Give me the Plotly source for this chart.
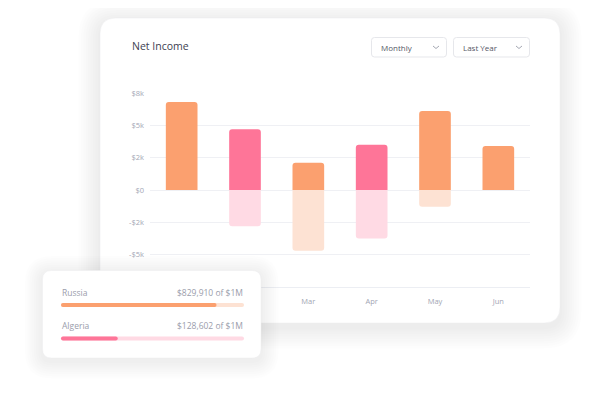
import plotly.graph_objects as go

# ---------------- data ----------------
months = ["Jan", "Feb", "Mar", "Apr", "May", "Jun"]
income = [6800, 4700, 2100, 3500, 6100, 3400]
expense = [0, -2800, -4700, -3750, -1300, 0]
bar_kind = ["o", "p", "o", "p", "o", "o"]
y_tickvals = [-7500, -5000, -2500, 0, 2500, 5000, 7500]
y_ticktext = ["-$8k", "-$5k", "-$2k", "$0", "$2k", "$5k", "$8k"]

countries = ["Russia", "Algeria"]
country_values = ["$829,910 of $1M", "$128,602 of $1M"]
country_progress = [0.85, 0.31]
country_kind = ["o", "p"]

# ---------------- styles ----------------
W, H = 603, 396
OFF = 8  # page body margin
L, R, T, B = 150, 530, 93, 287  # plot area in screen pixels
ORANGE, PINK = "#fba06f", "#fe7598"
LORANGE, LPINK = "#fde2d3", "#ffdae4"
strong = {"o": ORANGE, "p": PINK}
light = {"o": LORANGE, "p": LPINK}
FONT = "Open Sans"


def px(x):
    return (x - L) / (R - L)


def py(y):
    return (B - y) / (B - T)


def rrect(x0, y0, x1, y1, r):
    P = lambda x, y: f"{px(x):.5f},{py(y):.5f}"
    return (f"M{P(x0 + r, y0)} L{P(x1 - r, y0)} Q{P(x1, y0)} {P(x1, y0 + r)} "
            f"L{P(x1, y1 - r)} Q{P(x1, y1)} {P(x1 - r, y1)} L{P(x0 + r, y1)} "
            f"Q{P(x0, y1)} {P(x0, y1 - r)} L{P(x0, y0 + r)} Q{P(x0, y0)} {P(x0 + r, y0)} Z")


shapes = []


def card(x0, y0, x1, y1, r, layer, n=9, step=2.4, alpha=0.006, dy=4):
    for i in range(n, 0, -1):
        e = i * step
        shapes.append(dict(type="path", xref="paper", yref="paper", layer=layer,
                           path=rrect(x0 - e, y0 - e + dy, x1 + e, y1 + e + dy, r + e),
                           fillcolor=f"rgba(40,40,40,{alpha})", line=dict(width=0)))
    shapes.append(dict(type="path", xref="paper", yref="paper", layer=layer,
                       path=rrect(x0, y0, x1, y1, r), fillcolor="white",
                       line=dict(width=0.6, color="rgba(236,236,238,0.8)")))


# main card
card(100, 18, 560, 323, 16, "below")

# dropdowns
for (x0, x1, label, cx) in [(371.5, 446.5, "Monthly", 436), (453.5, 529.5, "Last Year", 519)]:
    shapes.append(dict(type="path", xref="paper", yref="paper", layer="below",
                       path=rrect(x0, 37.5, x1, 57, 3), fillcolor="white",
                       line=dict(width=1, color="#e6e7eb")))
    shapes.append(dict(type="path", xref="paper", yref="paper", layer="below",
                       path=f"M{px(cx-3):.5f},{py(46):.5f} L{px(cx):.5f},{py(48.5):.5f} L{px(cx+3):.5f},{py(46):.5f}",
                       line=dict(width=1, color="#a4a7b2")))

# small card (above plot)
card(42.5, 270.5, 261, 358, 9, "above", n=8, step=2.2, alpha=0.007, dy=3)

annotations = [
    dict(text="Net Income", x=px(129.5), y=py(45.5), xref="paper", yref="paper",
         xanchor="left", yanchor="middle", showarrow=False,
         font=dict(family=FONT, size=10.5, color="#3d4152")),
    dict(text="Monthly", x=px(378.5), y=py(47.5), xref="paper", yref="paper",
         xanchor="left", yanchor="middle", showarrow=False,
         font=dict(family=FONT, size=8, color="#555866")),
    dict(text="Last Year", x=px(461), y=py(47.5), xref="paper", yref="paper",
         xanchor="left", yanchor="middle", showarrow=False,
         font=dict(family=FONT, size=8, color="#555866")),
]

x_l, x_r = 61, 244
for i, (name, val, prog, kind) in enumerate(zip(countries, country_values, country_progress, country_kind)):
    ty = 292.5 + i * 33
    by = 305 + i * 33.5
    annotations.append(dict(text=name, x=px(x_l - 1), y=py(ty), xref="paper", yref="paper",
                            xanchor="left", yanchor="middle", showarrow=False,
                            font=dict(family=FONT, size=8.5, color="#9a9dab")))
    annotations.append(dict(text=val, x=px(x_r + 1), y=py(ty), xref="paper", yref="paper",
                            xanchor="right", yanchor="middle", showarrow=False,
                            font=dict(family=FONT, size=8.5, color="#9a9dab")))
    shapes.append(dict(type="path", xref="paper", yref="paper", layer="above",
                       path=rrect(x_l, by - 2, x_r, by + 2, 2), fillcolor=light[kind],
                       line=dict(width=0)))
    xe = x_l + prog * (x_r - x_l)
    shapes.append(dict(type="path", xref="paper", yref="paper", layer="above",
                       path=rrect(x_l, by - 2, xe, by + 2, 2), fillcolor=strong[kind],
                       line=dict(width=0)))

fig = go.Figure()
fig.add_trace(go.Bar(x=months, y=income, marker=dict(color=[strong[k] for k in bar_kind], line=dict(width=0)),
                     hoverinfo="skip"))
fig.add_trace(go.Bar(x=months, y=expense, marker=dict(color=[light[k] for k in bar_kind], line=dict(width=0)),
                     hoverinfo="skip"))

fig.update_layout(
    width=W, height=H,
    margin=dict(l=L - OFF, r=W - (R - OFF), t=T - OFF, b=H - (B - OFF), pad=0),
    paper_bgcolor="white", plot_bgcolor="rgba(0,0,0,0)",
    barmode="relative", bargap=0.5, barcornerradius=3,
    showlegend=False,
    shapes=shapes, annotations=annotations,
    font=dict(family=FONT),
    xaxis=dict(showgrid=False, zeroline=False, showline=True, linecolor="#eceef3", linewidth=1,
               ticks="", ticklabelstandoff=7,
               tickfont=dict(family=FONT, size=7.5, color="#a3a6b4"), fixedrange=True),
    yaxis=dict(range=[-7500, 7500], tickvals=y_tickvals, ticktext=y_ticktext,
               showgrid=True, gridcolor="#eff0f4", gridwidth=1, zeroline=False,
               ticks="", ticklabelstandoff=5,
               tickfont=dict(family=FONT, size=7.5, color="#a3a6b4"), fixedrange=True),
)

fig.write_html("out.html", config={"displayModeBar": False})
